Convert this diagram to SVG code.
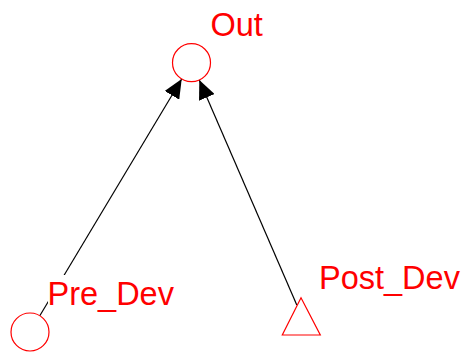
<svg xmlns="http://www.w3.org/2000/svg" width="472" height="354" viewBox="0 0 472 354">
  <style>
    .shape { fill: none; stroke: #ff0000; stroke-width: 1.2; }
    .label { font-family: "Liberation Sans", Arial, sans-serif; font-size: 32.5px; fill: #ff0000; }
    .edge { stroke: #000000; stroke-width: 1.2; fill: none; marker-end: url(#arrow); }
  </style>
  <defs>
    <marker id="arrow" markerUnits="userSpaceOnUse" viewBox="0 0 19 17" refX="19" refY="8.5" markerWidth="19" markerHeight="17" orient="auto">
      <path d="M0,0 L19,8.5 L0,17 z" fill="#000000"/>
    </marker>
  </defs>
  <rect width="472" height="354" fill="#ffffff"/>

  <!-- connectors -->
  <g id="edges">
    <line class="edge" x1="39.8" y1="315.7" x2="181.7" y2="79"/>
    <line class="edge" x1="296.8" y1="305" x2="199.3" y2="80"/>
  </g>

  <g id="Out">
    <circle class="shape" cx="191.5" cy="62.7" r="19"/>
    <text class="label" x="210.5" y="36">Out</text>
  </g>

  <g id="Pre_Dev">
    <circle class="shape" cx="30" cy="332" r="19"/>
    <rect x="48" y="275" width="138" height="32" fill="#ffffff"/>
    <text class="label" x="47.5" y="305">Pre_Dev</text>
  </g>

  <g id="Post_Dev">
    <polygon class="shape" points="301,297.7 320.3,335 282.3,335"/>
    <text class="label" x="319" y="289.3">Post_Dev</text>
  </g>
</svg>
